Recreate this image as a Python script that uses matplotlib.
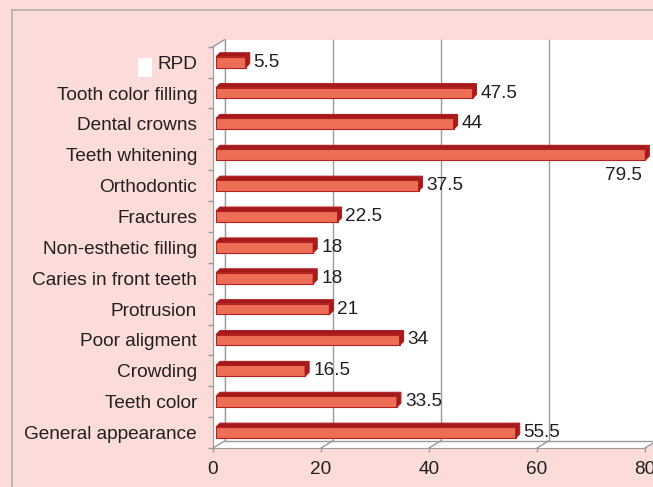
import matplotlib.pyplot as plt
import numpy as np
from matplotlib.patches import Polygon, Rectangle
from matplotlib.lines import Line2D

plt.rcParams['font.family'] = ['Liberation Sans', 'DejaVu Sans']

# data, bottom to top
categories = ["General appearance", "Teeth color", "Crowding", "Poor aligment",
              "Protrusion", "Caries in front teeth", "Non-esthetic filling",
              "Fractures", "Orthodontic", "Teeth whitening", "Dental crowns",
              "Tooth color filling", "RPD"]
values = [55.5, 33.5, 16.5, 34, 21, 18, 18, 22.5, 37.5, 79.5, 44, 47.5, 5.5]
xticks = [0, 20, 40, 60, 80]

W, H = 653, 487
fig = plt.figure(figsize=(W / 100, H / 100), dpi=100)
bg = '#fbdcd9'
grid_c = '#9a9a9a'
txt_c = '#231f20'
fs = 13.7
fig.patch.set_facecolor(bg)

# outer frame of the picture
fig.add_artist(Line2D([12 / W, 12 / W], [0, 1 - 10 / H], color='#b0b0b0', lw=1.2))
fig.add_artist(Line2D([12 / W, 1], [1 - 10 / H, 1 - 10 / H], color='#b0b0b0', lw=1.2))
# empty legend key next to RPD
fig.add_artist(Rectangle((138 / W, 1 - 77 / H), 14 / W, 19 / H,
                         transform=fig.transFigure, facecolor='white', edgecolor='none'))

ax = fig.add_axes([213 / W, 39 / H, 432 / W, 401.3 / H])
ax.set_xlim(0, 80)
ax.set_ylim(-0.5, len(categories) - 0.5)
ax.patch.set_visible(False)

# pixel -> data helpers
px_x = 80 / 432
px_y = len(categories) / 401.3
wdx, wdy = 11.5 * px_x, 7 * px_y          # depth of the walls
y0, y1 = -0.5, len(categories) - 0.5

# walls and floor
ax.add_patch(Polygon([(wdx, y0 + wdy), (80 + wdx, y0 + wdy), (80 + wdx, y1 + wdy), (wdx, y1 + wdy)],
                     closed=True, facecolor='white', edgecolor='none', clip_on=False, zorder=0))
ax.add_patch(Polygon([(0, y0), (wdx, y0 + wdy), (wdx, y1 + wdy), (0, y1)],
                     closed=True, facecolor='white', edgecolor='none', clip_on=False, zorder=0))
ax.add_patch(Polygon([(0, y0), (80, y0), (80 + wdx, y0 + wdy), (wdx, y0 + wdy)],
                     closed=True, facecolor='white', edgecolor='none', clip_on=False, zorder=0))

kw = dict(color=grid_c, lw=1, clip_on=False, zorder=1)
ax.plot([wdx, wdx], [y0 + wdy, y1 + wdy], **kw)
ax.plot([0, wdx], [y1, y1 + wdy], **kw)
ax.plot([wdx, 80 + wdx], [y0 + wdy, y0 + wdy], **kw)
for t in xticks:
    ax.plot([t, t + wdx], [y0, y0 + wdy], **kw)
    if 0 < t < 80:
        ax.plot([t + wdx, t + wdx], [y0 + wdy, y1 + wdy], **kw)

# bars
bx0 = 3 * px_x
bdx, bdy = 4 * px_x, 4 * px_y
h = 5.4 * px_y
face = '#ec6f55'
dark = '#a3191c'
edge = '#b3201f'
for i, v in enumerate(values):
    ax.add_patch(Rectangle((bx0, i - h), v, 2 * h, facecolor=face, edgecolor=edge,
                           lw=0.8, zorder=3, clip_on=False))
    ax.add_patch(Polygon([(bx0, i + h), (v + bx0, i + h), (v + bx0 + bdx, i + h + bdy),
                          (bx0 + bdx, i + h + bdy)], closed=True, facecolor=dark,
                         edgecolor=edge, lw=0.8, zorder=3, clip_on=False))
    ax.add_patch(Polygon([(v + bx0, i - h), (v + bx0 + bdx, i - h + bdy),
                          (v + bx0 + bdx, i + h + bdy), (v + bx0, i + h)], closed=True,
                         facecolor=dark, edgecolor=edge, lw=0.8, zorder=3, clip_on=False))
    lbl = f"{v:g}"
    if v > 75:
        ax.text(v, i - 21 * px_y, lbl, ha='right', va='center', fontsize=fs,
                color=txt_c, zorder=4)
    else:
        ax.text(v + bx0 + bdx + 4 * px_x, i, lbl, ha='left', va='center', fontsize=fs,
                color=txt_c, zorder=4)

# axes, ticks, labels
for s in ['top', 'right']:
    ax.spines[s].set_visible(False)
for s in ['left', 'bottom']:
    ax.spines[s].set_color(grid_c)
    ax.spines[s].set_zorder(2)
ax.set_yticks(np.arange(len(categories)))
ax.set_yticklabels(categories, fontsize=fs, color=txt_c)
ax.set_yticks(np.arange(len(categories) + 1) - 0.5, minor=True)
ax.tick_params(axis='y', which='major', length=0, pad=11.5)
ax.tick_params(axis='y', which='minor', length=3.6, color=grid_c, width=1)
ax.set_xticks(xticks)
ax.set_xticklabels([str(t) for t in xticks], fontsize=fs, color=txt_c)
ax.tick_params(axis='x', length=3, color=grid_c, width=1, pad=6.5)

fig.savefig('out.png', dpi=100, facecolor=bg)
